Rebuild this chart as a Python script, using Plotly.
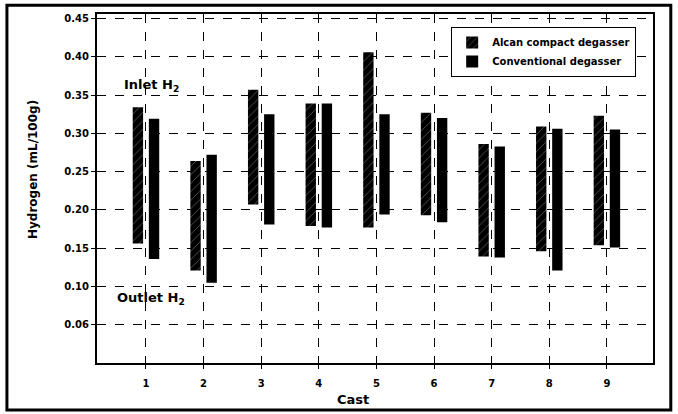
import plotly.graph_objects as go

casts = [1, 2, 3, 4, 5, 6, 7, 8, 9]
alcan_inlet = [0.334, 0.264, 0.357, 0.339, 0.406, 0.327, 0.286, 0.309, 0.323]
alcan_outlet = [0.156, 0.121, 0.207, 0.179, 0.177, 0.193, 0.139, 0.146, 0.154]
conv_inlet = [0.319, 0.272, 0.325, 0.339, 0.325, 0.320, 0.283, 0.306, 0.305]
conv_outlet = [0.136, 0.105, 0.181, 0.177, 0.194, 0.184, 0.138, 0.121, 0.151]
y_tickvals = [0.05, 0.10, 0.15, 0.20, 0.25, 0.30, 0.35, 0.40, 0.45]
y_ticktext = ["0.06", "0.10", "0.15", "0.20", "0.25", "0.30", "0.35", "0.40", "0.45"]

FONT = "DejaVu Sans, Liberation Sans, Arial, sans-serif"

fig = go.Figure()
fig.add_trace(go.Bar(
    x=casts,
    y=[a - b for a, b in zip(alcan_inlet, alcan_outlet)],
    base=alcan_outlet,
    name="Alcan compact degasser",
    width=0.18, offset=-0.23,
    marker=dict(color="black", line=dict(width=0),
                pattern=dict(shape="/", fgcolor="white", bgcolor="black",
                             size=6, solidity=0.1)),
))
fig.add_trace(go.Bar(
    x=casts,
    y=[a - b for a, b in zip(conv_inlet, conv_outlet)],
    base=conv_outlet,
    name="Conventional degasser",
    width=0.18, offset=0.05,
    marker=dict(color="black", line=dict(width=0)),
))

fig.update_layout(
    width=678, height=414,
    margin=dict(l=97, r=25, t=14, b=51, autoexpand=False),
    paper_bgcolor="white", plot_bgcolor="white",
    font=dict(family=FONT, color="black", size=10, weight="bold"),
    showlegend=True,
    barmode="overlay",
    legend=dict(x=0.637, y=0.963, xanchor="left", yanchor="top",
                bgcolor="white", bordercolor="black", borderwidth=1,
                font=dict(size=10, family=FONT, weight="bold"),
                itemsizing="constant", tracegroupgap=0,
                traceorder="normal", itemwidth=30),
    xaxis=dict(range=[0.15, 9.8], tickvals=casts, ticktext=[str(c) for c in casts],
               showgrid=True, gridcolor="black", griddash="dash", gridwidth=1,
               showline=True, linecolor="black", linewidth=2, mirror=True,
               ticks="outside", ticklen=4, tickcolor="black",
               ticklabelstandoff=6,
               zeroline=False, automargin=False,
               tickfont=dict(size=10, family=FONT, weight="bold")),
    yaxis=dict(range=[0, 0.456], tickvals=y_tickvals, ticktext=y_ticktext,
               showgrid=True, gridcolor="black", griddash="dash", gridwidth=1.3,
               showline=True, linecolor="black", linewidth=2, mirror=True,
               ticks="outside", ticklen=4, tickcolor="black",
               zeroline=False, automargin=False,
               tickfont=dict(size=10, family=FONT, weight="bold")),
    shapes=[dict(type="rect", xref="paper", yref="paper",
                 x0=-0.162, x1=1.032, y0=-0.135, y1=1.025,
                 line=dict(color="black", width=3), fillcolor="rgba(0,0,0,0)",
                 layer="above")],
    annotations=[
        dict(text="Inlet H<sub>2</sub>", x=0.58, y=0.362, xref="x", yref="y",
             xanchor="left", yanchor="middle", showarrow=False,
             font=dict(size=13, family=FONT, weight="bold")),
        dict(text="Outlet H<sub>2</sub>", x=0.46, y=0.084, xref="x", yref="y",
             xanchor="left", yanchor="middle", showarrow=False,
             font=dict(size=13, family=FONT, weight="bold")),
        dict(text="Hydrogen (mL/100g)", x=-0.115, y=0.553, xref="paper", yref="paper",
             xanchor="center", yanchor="middle", textangle=-90, showarrow=False,
             font=dict(size=12, family=FONT, weight="bold")),
        dict(text="Cast", x=0.46, y=-0.106, xref="paper", yref="paper",
             xanchor="center", yanchor="middle", showarrow=False,
             font=dict(size=13, family=FONT, weight="bold")),
    ],
)

fig.write_html("out.html", config={"displayModeBar": False},
               post_script="document.body.style.margin='0';document.body.style.overflow='hidden';")
